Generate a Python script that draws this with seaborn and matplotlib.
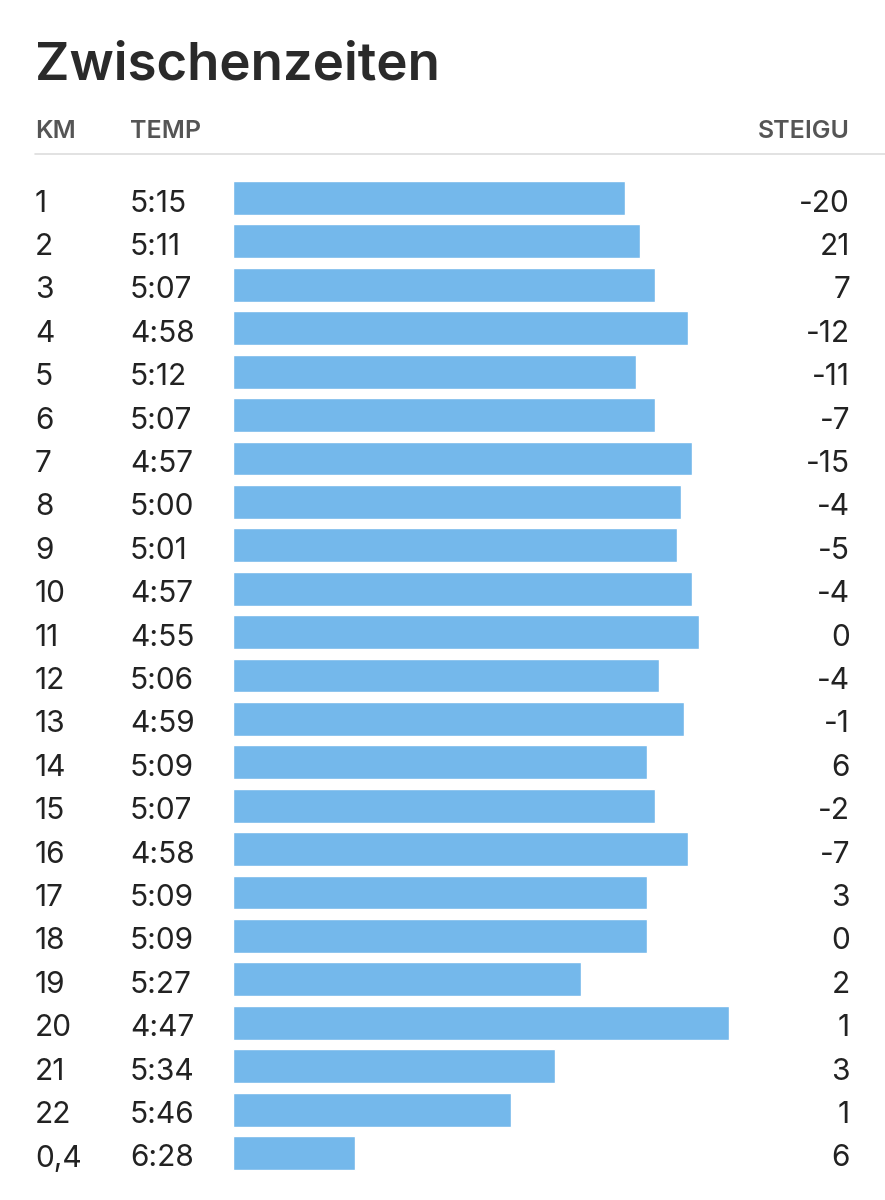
import matplotlib
matplotlib.use("Agg")
import matplotlib.pyplot as plt
import seaborn as sns
import pandas as pd
from matplotlib.lines import Line2D
from matplotlib.transforms import blended_transform_factory

# ---- data ----
km = ["1", "2", "3", "4", "5", "6", "7", "8", "9", "10", "11", "12", "13", "14",
      "15", "16", "17", "18", "19", "20", "21", "22", "0,4"]
tempo = ["5:15", "5:11", "5:07", "4:58", "5:12", "5:07", "4:57", "5:00", "5:01",
         "4:57", "4:55", "5:06", "4:59", "5:09", "5:07", "4:58", "5:09", "5:09",
         "5:27", "4:47", "5:34", "5:46", "6:28"]
steigung = [-20, 21, 7, -12, -11, -7, -15, -4, -5, -4, 0, -4, -1, 6, -2, -7, 3, 0,
            2, 1, 3, 1, 6]
title = "Zwischenzeiten"
headers = ["KM", "TEMP", "STEIGU"]

# bar length grows as pace gets faster (reference pace in seconds)
REF_SEC = 421

def to_sec(t):
    m, s = t.split(":")
    return int(m) * 60 + int(s)

df = pd.DataFrame({"km": km, "tempo": tempo, "steigung": steigung})
df["bar"] = [REF_SEC - to_sec(t) for t in tempo]

sns.set_theme(style="white")
plt.rcParams["font.family"] = ["Inter", "DejaVu Sans"]

W, H = 885, 1200
fig = plt.figure(figsize=(W / 100, H / 100), dpi=100)

row0, rowN = 198, 1153
step = (rowN - row0) / (len(km) - 1)
top = row0 - step / 2
bot = rowN + step / 2
ax = fig.add_axes([233 / W, 1 - bot / H, 497 / W, (bot - top) / H])
sns.barplot(data=df, x="bar", y="km", orient="h", color="#74b8eb",
            saturation=1, width=0.78, ax=ax)
ax.set_xlim(0, 134.3)
ax.set_ylim(len(km) - 0.5, -0.5)
ax.axis("off")

dy = 5.5 / step
tr = blended_transform_factory(fig.transFigure, ax.transData)
fs = 21.5
for i, row in df.iterrows():
    ax.text(35 / W, i + dy, row["km"], transform=tr, ha="left", va="center",
            fontsize=fs, color="#222222", fontweight="normal")
    ax.text(130 / W, i + dy, row["tempo"], transform=tr, ha="left", va="center",
            fontsize=fs, color="#222222", fontweight="normal")
    ax.text(850 / W, i + dy, str(row["steigung"]), transform=tr, ha="right",
            va="center", fontsize=fs, color="#222222", fontweight="normal")

fig.text(35 / W, 1 - 80 / H, title, ha="left", va="baseline", fontsize=38,
         fontweight="semibold", color="#2a2a2a")
hy = 1 - 131 / H
fig.text(35 / W, hy, headers[0], ha="left", va="center", fontsize=18,
         fontweight="semibold", color="#555555")
fig.text(130 / W, hy, headers[1], ha="left", va="center", fontsize=18,
         fontweight="semibold", color="#555555")
fig.text(850 / W, hy, headers[2], ha="right", va="center", fontsize=18,
         fontweight="semibold", color="#555555")

fig.add_artist(Line2D([35 / W, 1], [1 - 154 / H, 1 - 154 / H], color="#dddddd",
                      lw=1.2, transform=fig.transFigure))

fig.savefig("out.png", dpi=100, facecolor="white")
